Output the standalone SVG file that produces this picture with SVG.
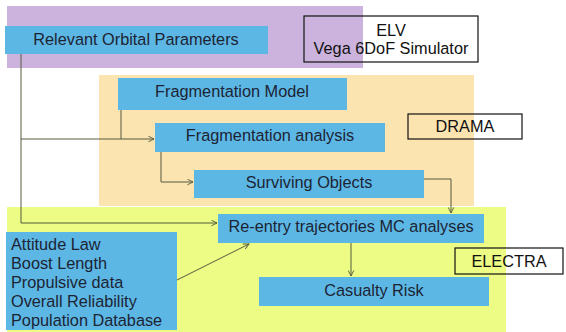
<svg xmlns="http://www.w3.org/2000/svg" width="566" height="332" viewBox="0 0 566 332">
<style>
.bg{stroke:none}
.box{fill:#5DB7E5;stroke:none}
.lbl{fill:none;stroke:#111;stroke-width:1.2}
text{font-family:"Liberation Sans",Arial,sans-serif;font-size:16.3px;fill:#1c2433}
.c{text-anchor:middle}
.k{fill:#111}
.ln{fill:none;stroke:#555a40;stroke-width:1}
</style>
<defs>
<marker id="a" viewBox="0 0 10 10" refX="9" refY="5" markerWidth="7" markerHeight="7" orient="auto" markerUnits="userSpaceOnUse">
<path d="M1,1 L9,5 L1,9" fill="none" stroke="#555a40" stroke-width="1.3"/>
</marker>
</defs>
<g id="regions">
<rect class="bg" x="7" y="6" width="356" height="62" fill="#CBB3DD"/>
<rect class="bg" x="99" y="75" width="375" height="131" fill="#FCE4B0"/>
<rect class="bg" x="7" y="207" width="499" height="125" fill="#ECFC84"/>
</g>
<g id="n-orbital"><rect class="box" x="5" y="26" width="263" height="28"/><text class="c" x="136" y="44.5">Relevant Orbital Parameters</text></g>
<g id="n-elv"><rect class="lbl" x="304" y="16" width="174" height="46"/><text class="c k" x="391" y="36">ELV</text><text class="c k" x="391" y="54">Vega 6DoF Simulator</text></g>
<g id="n-fragmodel"><rect class="box" x="118" y="78" width="229" height="32"/><text class="c" x="232" y="97">Fragmentation Model</text></g>
<g id="n-drama"><rect class="lbl" x="408" y="114" width="114" height="25"/><text class="c k" x="465" y="132">DRAMA</text></g>
<g id="n-fraganalysis"><rect class="box" x="155" y="123" width="230" height="29"/><text class="c" x="270" y="140.5">Fragmentation analysis</text></g>
<g id="n-surviving"><rect class="box" x="194" y="170" width="230" height="28"/><text class="c" x="309" y="187.5">Surviving Objects</text></g>
<g id="n-reentry"><rect class="box" x="218" y="214" width="266" height="29"/><text class="c" x="351" y="231.5">Re-entry trajectories MC analyses</text></g>
<g id="n-electra"><rect class="lbl" x="455" y="248" width="108" height="26"/><text class="c k" x="509" y="267">ELECTRA</text></g>
<g id="n-casualty"><rect class="box" x="259" y="277" width="230" height="29"/><text class="c" x="374" y="295.5">Casualty Risk</text></g>
<g id="n-inputs"><rect class="box" x="6" y="232" width="171" height="98"/>
<text x="11" y="249.5">Attitude Law</text>
<text x="11" y="268.5">Boost Length</text>
<text x="11" y="287.5">Propulsive data</text>
<text x="11" y="306.5">Overall Reliability</text>
<text x="11" y="325.5">Population Database</text></g>
<g id="connectors">
<path class="ln" d="M21,54 V223 H217" marker-end="url(#a)"/>
<path class="ln" d="M21,139 H154" marker-end="url(#a)"/>
<path class="ln" d="M121,110 V139"/>
<path class="ln" d="M161,152 V182 H193" marker-end="url(#a)"/>
<path class="ln" d="M424,179 H451 V213" marker-end="url(#a)"/>
<path class="ln" d="M351,243 V276" marker-end="url(#a)"/>
<path class="ln" d="M177,280 L249,244" marker-end="url(#a)"/>
</g>
</svg>
